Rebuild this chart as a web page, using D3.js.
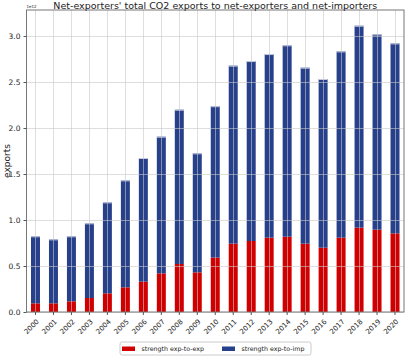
<!DOCTYPE html>
<html>
<head>
<meta charset="utf-8">
<script src="https://cdn.jsdelivr.net/npm/d3@7"></script>
<style>
  body { margin: 0; background: #fff; }
  text { font-family: "DejaVu Sans", sans-serif; fill: #222; }
</style>
</head>
<body>
<div id="chart"></div>
<script>
// values in units of 1e12
var years = ['2000','2001','2002','2003','2004','2005','2006','2007','2008','2009','2010',
             '2011','2012','2013','2014','2015','2016','2017','2018','2019','2020'];
var expToExp = [0.094, 0.094, 0.116, 0.152, 0.203, 0.268, 0.330, 0.420, 0.522, 0.431, 0.592,
                0.743, 0.772, 0.808, 0.819, 0.743, 0.699, 0.808, 0.917, 0.895, 0.855];
var totals   = [0.823, 0.790, 0.823, 0.964, 1.192, 1.431, 1.674, 1.906, 2.199, 1.725, 2.237,
                2.678, 2.728, 2.804, 2.899, 2.656, 2.533, 2.833, 3.112, 3.018, 2.920];
var expToImp = totals.map(function(t, i){ return +(t - expToExp[i]).toFixed(3); });
var yTicks = [0, 0.5, 1.0, 1.5, 2.0, 2.5, 3.0];
var seriesNames = ['strength exp-to-exp', 'strength exp-to-imp'];
var seriesColors = ['#d10000', '#27408b'];

(function(){
  var W = 407, H = 357;
  var m = {left: 26.5, right: 3, top: 10, bottom: 45};

  var svg = d3.select('#chart').append('svg')
    .attr('width', W).attr('height', H);

  var x = d3.scaleBand().domain(years)
    .range([m.left, W - m.right]).paddingInner(0).paddingOuter(0);
  var y = d3.scaleLinear().domain([0, 3.283]).range([H - m.bottom, m.top]);
  var bw = x.bandwidth() * 0.5;

  var rows = years.map(function(yr, i){ return {year: yr, a: expToExp[i], b: expToImp[i]}; });
  var stack = d3.stack().keys(['a', 'b'])(rows);

  var g = svg.append('g');
  g.selectAll('g.series').data(stack).enter().append('g')
      .attr('class', 'series')
      .attr('fill', function(d, i){ return seriesColors[i]; })
    .selectAll('rect').data(function(d){ return d; }).enter().append('rect')
      .attr('x', function(d){ return x(d.data.year) + (x.bandwidth() - bw) / 2; })
      .attr('width', bw)
      .attr('y', function(d){ return y(d[1]); })
      .attr('height', function(d){ return y(d[0]) - y(d[1]); });

  // bar top highlight
  g.selectAll('line.cap').data(rows).enter().append('line')
    .attr('x1', function(d){ return x(d.year) + (x.bandwidth() - bw) / 2; })
    .attr('x2', function(d){ return x(d.year) + (x.bandwidth() + bw) / 2; })
    .attr('y1', function(d){ return y(d.a + d.b) + 0.5; })
    .attr('y2', function(d){ return y(d.a + d.b) + 0.5; })
    .attr('stroke', '#c8cde0').attr('stroke-width', 1);

  // grid on top of bars
  var grid = svg.append('g').attr('stroke', '#c8c8c8').attr('stroke-opacity', 0.6).attr('stroke-width', 1);
  grid.selectAll('line.h').data(yTicks).enter().append('line')
    .attr('x1', m.left).attr('x2', W - m.right)
    .attr('y1', function(d){ return Math.round(y(d)) + 0.5; })
    .attr('y2', function(d){ return Math.round(y(d)) + 0.5; });
  grid.selectAll('line.v').data(years).enter().append('line')
    .attr('y1', m.top).attr('y2', H - m.bottom)
    .attr('x1', function(d){ return Math.round(x(d) + x.bandwidth() / 2) + 0.5; })
    .attr('x2', function(d){ return Math.round(x(d) + x.bandwidth() / 2) + 0.5; });

  // frame
  svg.append('rect')
    .attr('x', m.left).attr('y', m.top)
    .attr('width', W - m.right - m.left).attr('height', H - m.bottom - m.top)
    .attr('fill', 'none').attr('stroke', '#777').attr('stroke-width', 1);

  // y axis
  var yAxis = svg.append('g')
    .attr('transform', 'translate(' + m.left + ',0)')
    .call(d3.axisLeft(y).tickValues(yTicks).tickSize(3).tickFormat(d3.format('.1f')));
  yAxis.select('.domain').remove();
  yAxis.selectAll('line').attr('stroke', '#555');
  yAxis.selectAll('text').attr('font-size', 7.5).attr('fill', '#222')
    .attr('font-family', '"DejaVu Sans", sans-serif');

  // x axis
  var xAxis = svg.append('g')
    .attr('transform', 'translate(0,' + (H - m.bottom) + ')')
    .call(d3.axisBottom(x).tickSize(3));
  xAxis.select('.domain').remove();
  xAxis.selectAll('line').attr('stroke', '#555');
  xAxis.selectAll('text')
    .attr('font-size', 7).attr('fill', '#222')
    .attr('font-family', '"DejaVu Sans", sans-serif')
    .attr('text-anchor', 'end')
    .attr('dy', null).attr('y', 0)
    .attr('transform', 'translate(4,10) rotate(-45)');

  // offset text
  svg.append('text').attr('x', m.left).attr('y', m.top - 2)
    .attr('font-size', 4).text('1e12');

  // y label
  svg.append('text')
    .attr('transform', 'translate(10,' + ((m.top + H - m.bottom) / 2) + ') rotate(-90)')
    .attr('text-anchor', 'middle').attr('font-size', 9)
    .text('exports');

  // title
  svg.append('text')
    .attr('x', (m.left + W - m.right) / 2).attr('y', m.top - 1)
    .attr('text-anchor', 'middle').attr('font-size', 9.5)
    .text("Net-exporters' total CO2 exports to net-exporters and net-importers");

  // legend
  var lg = svg.append('g').attr('transform', 'translate(120,342)');
  lg.append('rect').attr('width', 191).attr('height', 13).attr('rx', 2)
    .attr('fill', '#fff').attr('stroke', '#ccc');
  var items = lg.selectAll('g.item').data(seriesNames).enter().append('g')
    .attr('transform', function(d, i){ return 'translate(' + (i === 0 ? 2 : 102) + ',0)'; });
  items.append('rect').attr('y', 4.5).attr('width', 13).attr('height', 4.5)
    .attr('fill', function(d, i){ return seriesColors[i]; });
  items.append('text').attr('x', 19.5).attr('y', 9.3).attr('font-size', 6.3)
    .text(function(d){ return d; });
})();
</script>
</body>
</html>
